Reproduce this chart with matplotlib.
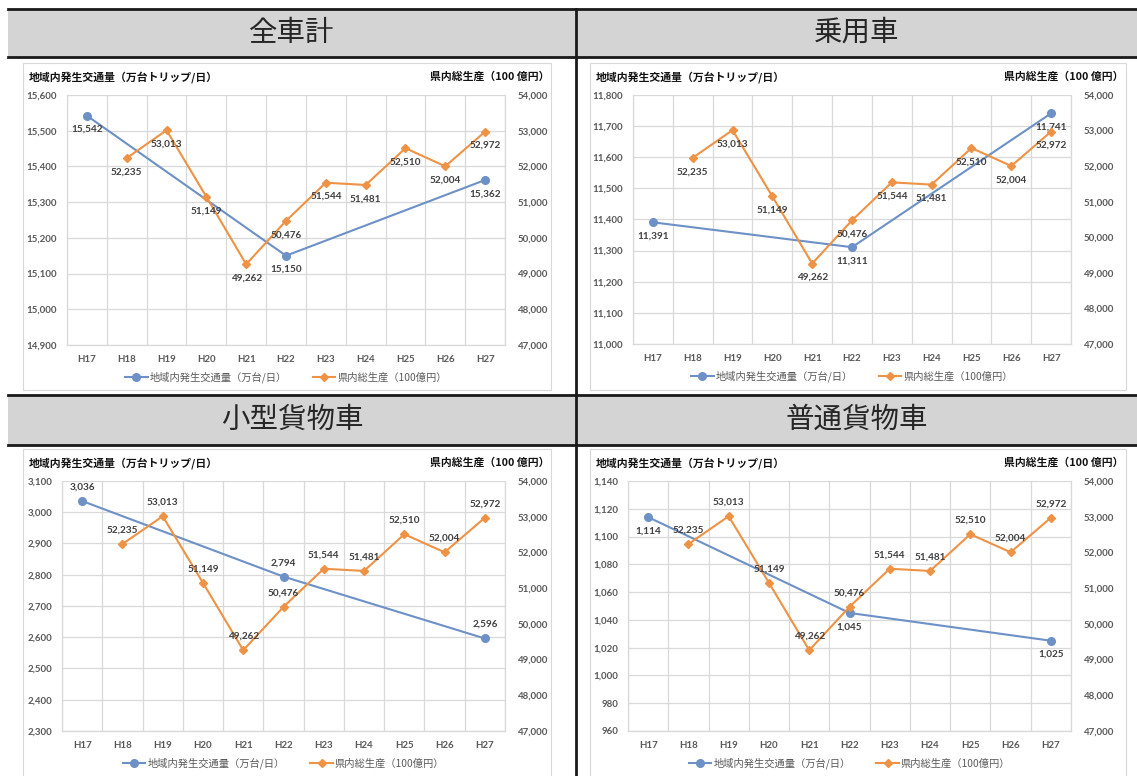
import matplotlib
matplotlib.use('Agg')
import matplotlib.pyplot as plt
from matplotlib.patches import Rectangle
from matplotlib.lines import Line2D
from matplotlib.ticker import FuncFormatter, MultipleLocator

W, H = 1137, 776
FONT = ['Lato', 'Noto Sans CJK JP', 'DejaVu Sans']
plt.rcParams['font.family'] = FONT

# ── Data ──────────────────────────────────────────────────────────
years = ['H17', 'H18', 'H19', 'H20', 'H21', 'H22', 'H23', 'H24', 'H25', 'H26', 'H27']
gdp_idx = [1, 2, 3, 4, 5, 6, 7, 8, 9, 10]
gdp = [52235, 53013, 51149, 49262, 50476, 51544, 51481, 52510, 52004, 52972]
traffic_idx = [0, 5, 10]
traffic_all = [15542, 15150, 15362]
traffic_car = [11391, 11311, 11741]
traffic_small = [3036, 2794, 2596]
traffic_large = [1114, 1045, 1025]

BLUE = '#6D91C6'
ORANGE = '#EE9245'
GRID = '#D9D9D9'
TICK = '#595959'
LABEL = '#404040'

fig = plt.figure(figsize=(W / 100, H / 100), dpi=100)


def fx(x):
    return x / W


def fy(y):
    return 1 - y / H


def frect(x0, y0, x1, y1):
    return [fx(x0), fy(y1), (x1 - x0) / W, (y1 - y0) / H]


# ── Frame: header bands and black rules ───────────────────────────
for y0, y1 in [(9, 57), (395, 445)]:
    fig.patches.append(Rectangle((fx(8), fy(y1)), (W - 8) / W, (y1 - y0) / H,
                                 transform=fig.transFigure, facecolor='#D4D4D4',
                                 edgecolor='none', zorder=0))
for y in [9, 57, 395, 445]:
    fig.lines.append(Line2D([fx(8), 1], [fy(y), fy(y)], transform=fig.transFigure,
                            color='#1A1A1A', lw=2.0, zorder=3))
fig.lines.append(Line2D([fx(576), fx(576)], [fy(9), 0], transform=fig.transFigure,
                        color='#1A1A1A', lw=2.0, zorder=3))

for title, cx, cy in [('全車計', 292, 33), ('乗用車', 857, 33),
                      ('小型貨物車', 292, 420), ('普通貨物車', 857, 420)]:
    fig.text(fx(cx), fy(cy), title, ha='center', va='center', fontsize=20.5,
             color='#262626', family=['Noto Sans CJK JP'])

# chart boxes
for x0, y0, x1, y1 in [(23, 63, 551, 390), (590, 63, 1126, 390),
                       (23, 449, 551, 790), (590, 449, 1126, 790)]:
    fig.patches.append(Rectangle((fx(x0), fy(y1)), (x1 - x0) / W, (y1 - y0) / H,
                                 transform=fig.transFigure, facecolor='white',
                                 edgecolor=GRID, lw=0.8, zorder=1))


def panel(plot_box, box, traffic, lo, hi, step, blue_below, orange_below):
    x0, y0, x1, y1 = plot_box
    ax = fig.add_axes(frect(x0, y0, x1, y1))
    ax.set_zorder(2)
    ax.set_xlim(-0.5, len(years) - 0.5)
    ax.set_ylim(lo, hi)
    ax.yaxis.set_major_locator(MultipleLocator(step))
    ax.yaxis.set_major_formatter(FuncFormatter(lambda v, p: f'{v:,.0f}'))
    ax.set_xticks(range(len(years)))
    ax.set_xticklabels(years)
    ax.set_xticks([i + 0.5 for i in range(-1, len(years))], minor=True)
    ax.grid(True, axis='y', which='major', color=GRID, lw=0.9)
    ax.grid(True, axis='x', which='minor', color=GRID, lw=0.9)
    ax.tick_params(which='both', length=0)
    ax.tick_params(axis='x', pad=7, labelsize=7, labelcolor=TICK)
    ax.tick_params(axis='y', pad=7, labelsize=7, labelcolor=TICK)
    for t in ax.get_xticklabels() + ax.get_yticklabels():
        t.set_fontweight('bold')
    for s in ax.spines.values():
        s.set_color(GRID)
        s.set_linewidth(0.9)
    ax.spines['top'].set_visible(False)
    ax.set_axisbelow(True)

    ax2 = ax.twinx()
    ax2.set_ylim(47000, 54000)
    ax2.yaxis.set_major_locator(MultipleLocator(1000))
    ax2.yaxis.set_major_formatter(FuncFormatter(lambda v, p: f'{v:,.0f}'))
    ax2.tick_params(length=0, pad=9, labelsize=7, labelcolor=TICK)
    for t in ax2.get_yticklabels():
        t.set_fontweight('bold')
    for s in ax2.spines.values():
        s.set_visible(False)

    hb, = ax.plot(traffic_idx, traffic, color=BLUE, lw=1.5, marker='o', ms=5.5,
                  zorder=3, label='地域内発生交通量（万台/日）')
    ho, = ax2.plot(gdp_idx, gdp, color=ORANGE, lw=1.5, marker='D', ms=3.8,
                   zorder=3, label='県内総生産（100億円）')

    dy = -10 if blue_below else 10
    for i, v in zip(traffic_idx, traffic):
        ax.annotate(f'{v:,}', (i, v), xytext=(0, dy), textcoords='offset points',
                    ha='center', va='center', fontsize=7.2, fontweight='bold',
                    color=LABEL, zorder=5)
    dy = -10 if orange_below else 10
    for i, v in zip(gdp_idx, gdp):
        ax2.annotate(f'{v:,}', (i, v), xytext=(0, dy), textcoords='offset points',
                     ha='center', va='center', fontsize=7.2, fontweight='bold',
                     color=LABEL, zorder=5)

    bx0, by0, bx1, by1 = box
    fig.text(fx(bx0 + 6), fy(by0 + 14), '地域内発生交通量（万台トリップ/日）',
             ha='left', va='center', fontsize=7.8, fontweight='bold', color='#111111',
             family=['Noto Sans CJK JP'])
    fig.text(fx(bx1 - 2), fy(by0 + 14), '県内総生産（100 億円）',
             ha='right', va='center', fontsize=7.8, fontweight='bold', color='#111111',
             family=['Noto Sans CJK JP'])

    fig.legend([hb, ho], [hb.get_label(), ho.get_label()], ncol=2,
               loc='center', bbox_to_anchor=(fx((x0 + x1) / 2), fy(y1 + 32)),
               frameon=False, labelcolor=TICK, handlelength=2.2,
               handletextpad=0.2, columnspacing=2.5,
               prop={'family': ['Noto Sans CJK JP'], 'size': 7.4})


panel((67, 95, 505, 345), (23, 63, 551, 390), traffic_all, 14900, 15600, 100, True, True)
panel((633, 95, 1071, 344), (590, 63, 1126, 390), traffic_car, 11000, 11800, 100, True, True)
panel((62, 481, 505, 731), (23, 449, 551, 790), traffic_small, 2300, 3100, 100, False, False)
panel((628, 481, 1071, 731), (590, 449, 1126, 790), traffic_large, 960, 1140, 20, True, False)

fig.savefig('out.png', dpi=100)
